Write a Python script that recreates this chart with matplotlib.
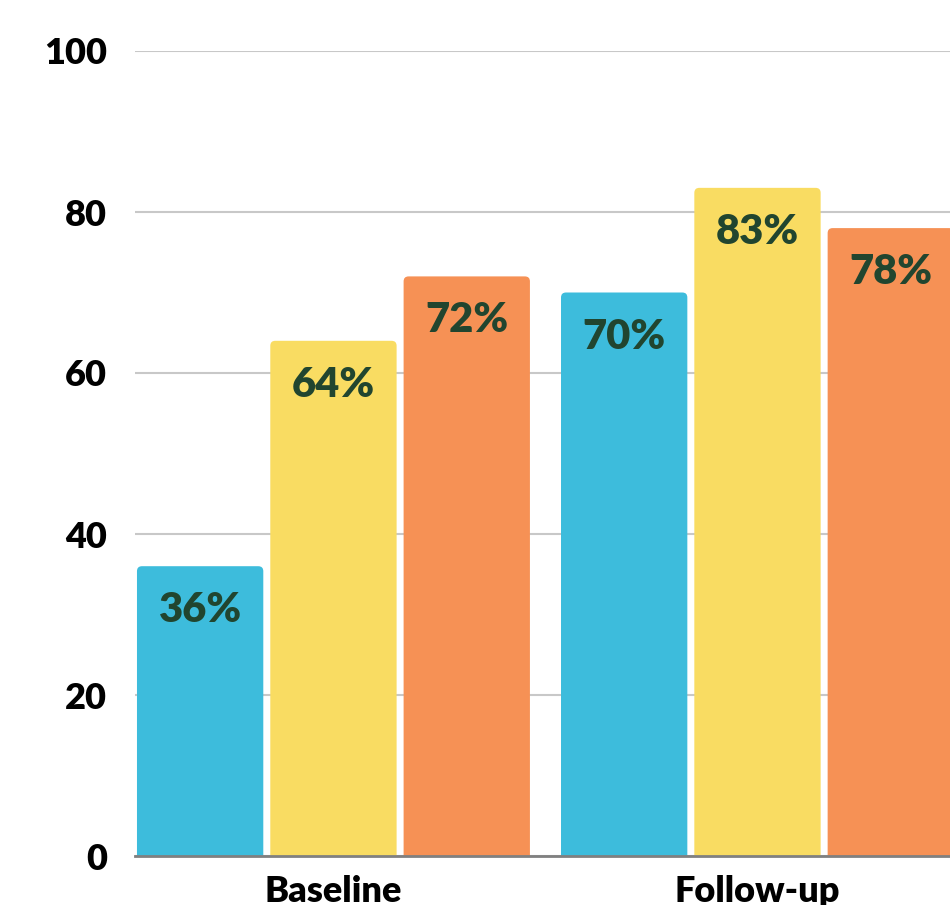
import matplotlib
matplotlib.use("Agg")
import matplotlib.pyplot as plt
from matplotlib.patches import FancyBboxPatch
import numpy as np

categories = ["Baseline", "Follow-up"]
series_names = ["Group A", "Group B", "Group C"]
values = [
    [36, 70],   # blue
    [64, 83],   # yellow
    [72, 78],   # orange
]
colors = ["#3DBCDC", "#F9DC62", "#F69155"]
yticks = [0, 20, 40, 60, 80, 100]

FONT = ["Lato", "DejaVu Sans"]
plt.rcParams["font.family"] = FONT

W, H = 950, 905
fig = plt.figure(figsize=(W / 100, H / 100), dpi=100)
ax = fig.add_axes([135 / W, (H - 856) / H, 1 - 135 / W, 805 / H])

x = np.arange(len(categories))
pitch = 0.3144
width = 0.2979
ax.set_xlim(-0.468, 1.454)
ax.set_ylim(0, 100)

px_x = 424.0
px_y = 8.05
r = 5 / px_x
aspect = px_x / px_y

for j, (vals, c) in enumerate(zip(values, colors)):
    bars = ax.bar(x + (j - 1) * pitch, vals, width=width, color=c, alpha=0)
    for b, v in zip(bars, vals):
        x0 = b.get_x()
        patch = FancyBboxPatch((x0, -2), b.get_width(), v + 2,
                               boxstyle=f"round,pad=0,rounding_size={r}",
                               mutation_aspect=aspect, facecolor=c,
                               edgecolor="none", zorder=3)
        ax.add_patch(patch)
        ax.annotate(f"{v}%", (x0 + b.get_width() / 2, v), xytext=(0, -44),
                    textcoords="offset pixels", ha="center", va="center",
                    fontsize=30, fontweight="heavy", color="#21452F", zorder=4)

ax.set_yticks(yticks)
ax.set_yticklabels([str(t) for t in yticks], fontsize=26, fontweight="heavy")
ax.set_xticks(x)
ax.set_xticklabels(categories, fontsize=26, fontweight="heavy")
ax.tick_params(axis="both", length=0)
ax.tick_params(axis="y", pad=20)
ax.tick_params(axis="x", pad=14)
ax.grid(axis="y", color="#C8C8C8", linewidth=1.5, zorder=0)
ax.set_axisbelow(True)
for s in ["top", "right", "left"]:
    ax.spines[s].set_visible(False)
ax.spines["bottom"].set_color("#808080")
ax.spines["bottom"].set_linewidth(2)
ax.spines["bottom"].set_zorder(5)

fig.savefig("out.png", dpi=100)
